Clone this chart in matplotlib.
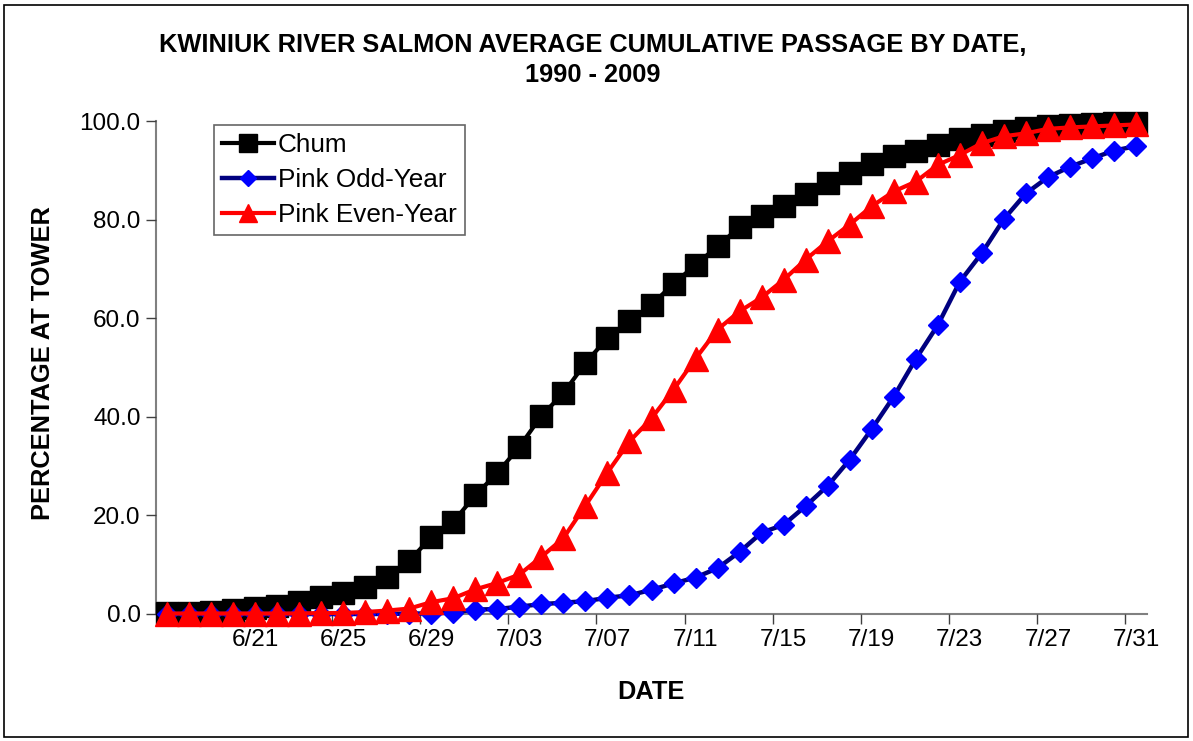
import numpy as np
import pandas as pd
import matplotlib
matplotlib.use('Agg')
import matplotlib.pyplot as plt
from matplotlib.patches import Rectangle

plt.rcParams['font.family'] = ['Liberation Sans', 'DejaVu Sans']

# dias de 17/06 a 31/07
dates = pd.date_range('2009-06-17', '2009-07-31')
date_labels = [f"{d.month}/{d.day:02d}" for d in dates]

chum = [0.3, 0.3, 0.5, 0.8, 1.2, 1.6, 2.5, 3.4, 4.3, 5.5, 7.5, 10.8, 15.6, 18.7,
        24.1, 28.6, 33.9, 40.2, 44.8, 50.9, 56.0, 59.4, 62.7, 67.0, 70.8, 74.6,
        78.5, 80.7, 82.8, 85.2, 87.4, 89.4, 91.2, 93.0, 94.0, 95.1, 96.3, 97.2,
        98.0, 98.5, 98.9, 99.2, 99.4, 99.5, 99.6]
pink_odd = [0.0, 0.0, 0.0, 0.0, 0.0, 0.0, 0.0, 0.0, 0.0, 0.0, 0.0, 0.1, 0.1, 0.3,
            0.9, 1.0, 1.5, 2.0, 2.3, 2.6, 3.3, 3.8, 4.9, 6.2, 7.4, 9.3, 12.6, 16.5,
            18.1, 21.9, 26.0, 31.3, 37.5, 44.1, 51.7, 58.6, 67.4, 73.2, 80.1, 85.3,
            88.6, 90.7, 92.4, 94.0, 94.9]
pink_even = [0.1, 0.1, 0.1, 0.1, 0.1, 0.1, 0.1, 0.2, 0.2, 0.4, 0.7, 1.1, 2.4, 3.2,
             5.0, 6.3, 8.0, 11.6, 15.4, 22.0, 28.7, 35.0, 39.7, 45.5, 51.8, 57.7,
             61.4, 64.2, 67.8, 71.9, 75.6, 79.0, 82.7, 85.7, 87.7, 91.1, 93.1, 95.5,
             96.9, 97.5, 98.4, 98.7, 98.9, 99.1, 99.3]

x = np.arange(len(dates))

fig = plt.figure(figsize=(11.93, 7.41), dpi=100)
ax = fig.add_axes([156/1193, 1 - 614/741, 991/1193, 493/741])

ax.plot(x, chum, color='black', lw=3, marker='s', ms=16.5, mfc='black', mec='black',
        label='Chum', clip_on=False)
ax.plot(x, pink_odd, color='#000080', lw=3.2, marker='D', ms=10, mfc='#0000FF', mec='#0000FF',
        label='Pink Odd-Year', clip_on=False)
ax.plot(x, pink_even, color='red', lw=3, marker='^', ms=17, mfc='red', mec='red',
        label='Pink Even-Year', clip_on=False)

ax.set_xlim(-0.5, len(x) - 0.5)
ax.set_ylim(0, 100)

# rótulos a cada 4 dias, marcas entre categorias
lab_pos = x[4::4]
ax.set_xticks(lab_pos)
ax.set_xticklabels([date_labels[i] for i in lab_pos])
ax.set_xticks(lab_pos - 0.5, minor=True)
ax.tick_params(axis='x', which='major', length=0, pad=11, labelsize=17.5)
ax.tick_params(axis='x', which='minor', length=7, width=1, color='#404040', direction='out')

ax.set_yticks(np.arange(0, 101, 20))
ax.set_yticklabels([f"{v:.1f}" for v in np.arange(0, 101, 20)])
ax.tick_params(axis='y', length=7, width=1, color='#404040', direction='out', labelsize=17.5, pad=4)

for s in ['top', 'right']:
    ax.spines[s].set_visible(False)
for s in ['left', 'bottom']:
    ax.spines[s].set_color('#808080')
    ax.spines[s].set_linewidth(1.5)
    ax.spines[s].set_zorder(0)

leg = ax.legend(loc='upper left', bbox_to_anchor=(0.0585, 0.992), borderaxespad=0,
                fontsize=18.8, frameon=True, fancybox=False, edgecolor='#404040',
                markerscale=0.8, handlelength=2.0, handletextpad=0.15,
                labelspacing=0.42, borderpad=0.3)
leg.get_frame().set_linewidth(1.2)
leg.set_zorder(5)

fig.text(0.497, 1 - 45/741, 'KWINIUK RIVER SALMON AVERAGE CUMULATIVE PASSAGE BY DATE,',
         ha='center', va='center', fontsize=18.3, fontweight='bold')
fig.text(0.497, 1 - 75/741, '1990 - 2009', ha='center', va='center', fontsize=18.3, fontweight='bold')
fig.text(651/1193, 1 - 692/741, 'DATE', ha='center', va='center', fontsize=18.3, fontweight='bold')
fig.text(43/1193, 1 - 363/741, 'PERCENTAGE AT TOWER', ha='center', va='center',
         rotation=90, fontsize=18.3, fontweight='bold')

# moldura externa
fig.patches.append(Rectangle((4/1193, 4/741), 1 - 9/1193, 1 - 9/741, transform=fig.transFigure,
                             fill=False, edgecolor='black', lw=1.2))

fig.savefig('out.png', dpi=100)
